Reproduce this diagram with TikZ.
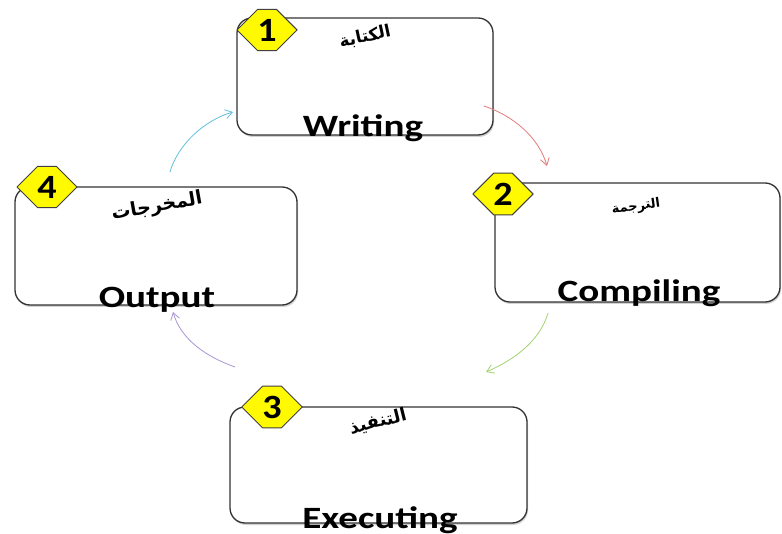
\documentclass[tikz,border=0pt]{standalone}
\usepackage{fontspec}
\usepackage{graphicx}
\setmainfont{Carlito}
\newfontfamily\arabicfont[Script=Arabic]{DejaVu Sans}
\TeXXeTstate=1
\usetikzlibrary{shapes.misc,arrows.meta,shadows}
\definecolor{arrred}{RGB}{228,120,120}
\definecolor{arrgreen}{RGB}{165,210,115}
\definecolor{arrpurple}{RGB}{170,150,210}
\definecolor{arrcyan}{RGB}{100,190,220}
\definecolor{octyellow}{RGB}{255,250,0}
\newcommand{\wide}[1]{\scalebox{1.26}[1]{#1}}
\newcommand{\numw}[1]{\scalebox{1.12}[1]{#1}}
\tikzset{
  stagebox/.style={draw=black!80, line width=1.3pt, rounded corners=15pt, fill=white,
    inner sep=0pt, drop shadow={shadow xshift=1pt, shadow yshift=-2pt, opacity=0.35}},
  octnum/.style={chamfered rectangle, chamfered rectangle xsep=11pt, chamfered rectangle ysep=11pt,
    fill=octyellow, draw=black!75, line width=1pt, minimum width=60pt, minimum height=38pt,
    inner sep=0pt, font=\bfseries\fontsize{34}{34}\selectfont},
  engl/.style={anchor=base, inner sep=0pt, font=\bfseries\fontsize{31}{31}\selectfont},
  arab/.style={inner sep=0pt, font=\arabicfont\bfseries\fontsize{15}{15}\selectfont},
  flow/.style={line width=0.8pt, -{Straight Barb[length=7pt,width=9pt]}}
}
\begin{document}
\begin{tikzpicture}[x=1pt,y=-1pt]
\useasboundingbox (0,0) rectangle (782,534);
\fill[white] (0,0) rectangle (782,534);

% boxes
\node[stagebox, minimum width=256pt, minimum height=117pt] (b1) at (365,76.5) {};
\node[stagebox, minimum width=285pt, minimum height=119pt] (b2) at (637.5,242.5) {};
\node[stagebox, minimum width=282pt, minimum height=118pt] (b4) at (156,246) {};
\node[stagebox, minimum width=297pt, minimum height=116pt] (b3) at (378.5,465) {};

% english labels
\node[engl] (w) at (363,137) {\wide{Writing}};
\node[engl] (c) at (639,302) {\wide{Compiling}};
\node[engl] (o) at (157,308) {\wide{Output}};
\node[engl] (e) at (380,528) {\wide{Executing}};

% arabic labels
\node[arab, rotate=12, font=\arabicfont\bfseries\fontsize{17}{17}\selectfont] (aw) at (365,37) {\beginR الكتابة\endR};
\node[arab, rotate=8, font=\arabicfont\bfseries\fontsize{13}{13}\selectfont] (ac) at (636,207) {\beginR الترجمة\endR};
\node[arab, rotate=10, font=\arabicfont\bfseries\fontsize{19}{19}\selectfont] (ao) at (157,207) {\beginR المخرجات\endR};
\node[arab, rotate=14, font=\arabicfont\bfseries\fontsize{18}{18}\selectfont] (ae) at (378,422) {\beginR التنفيذ\endR};

% number octagons
\node[octnum] (n1) at (267,30) {\numw{1}};
\node[octnum] (n2) at (503,194) {\numw{2}};
\node[octnum] (n4) at (47,187) {\numw{4}};
\node[octnum] (n3) at (272,407) {\numw{3}};

% arrow end points
\coordinate (r1) at (484,106);
\coordinate (r2) at (547,166);
\coordinate (g1) at (548,313);
\coordinate (g2) at (486,372);
\coordinate (p1) at (235,367);
\coordinate (p2) at (173,312);
\coordinate (c1) at (170,172);
\coordinate (c2) at (233,112);

\draw[flow, arrred] (r1) .. controls +(30,10) and +(-8,-28) .. (r2);
\draw[flow, arrgreen] (g1) .. controls +(-8,28) and +(28,-12) .. (g2);
\draw[flow, arrpurple] (p1) .. controls +(-28,-10) and +(8,28) .. (p2);
\draw[flow, arrcyan] (c1) .. controls +(8,-28) and +(-28,8) .. (c2);
\end{tikzpicture}
\end{document}
